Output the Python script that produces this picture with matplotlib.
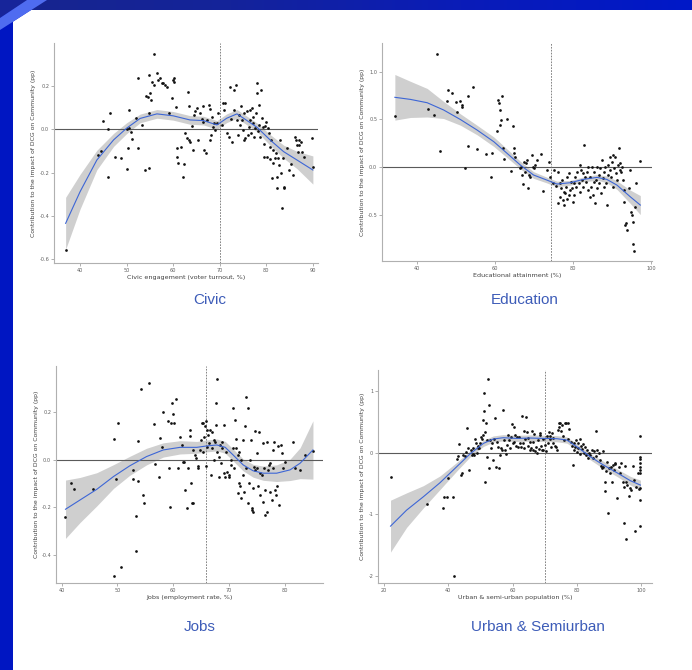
import matplotlib
matplotlib.use("Agg")
import matplotlib.pyplot as plt
import numpy as np
from matplotlib.patches import Polygon, Rectangle
from matplotlib.colors import LinearSegmentedColormap

plt.rcParams['axes.unicode_minus'] = False
plt.rcParams['font.family'] = ['DejaVu Sans']

# ---------------- DATA ----------------
titles = ["Civic", "Education", "Jobs", "Urban & Semiurban"]
xlabels = ["Civic engagement (voter turnout, %)", "Educational attainment (%)",
           "Jobs (employment rate, %)", "Urban & semi-urban population (%)"]
ylabel = "Contribution to the impact of DCG on Community (pp)"

civic_xticks = [40, 50, 60, 70, 80, 90]
civic_yticks = [-0.6, -0.4, -0.2, 0.0, 0.2]
civic_ytick_labels = ["-0.6", "-0.4", "-0.2", "0.0", "0.2"]
civic_threshold = 70
civic_points = [(36.9,-0.557),(43.9,-0.118),(44.5,-0.10),(44.9,0.038),(45.9,0.0),(46.1,-0.218),(46.4,0.077),
 (47.4,-0.126),(48.7,-0.134),(50.0,0.003),(50.2,-0.088),(50.0,-0.183),(50.5,0.089),(50.5,0.005),(50.9,-0.011),
 (51.1,-0.046),(52.0,0.054),(52.5,0.238),(52.5,-0.088),(53.2,0.02),(54.0,-0.188),(54.2,0.154),(54.5,0.151),
 (54.7,0.251),(54.7,0.074),(54.9,-0.18),(55.0,0.166),(55.2,0.135),(55.4,0.22),(55.8,0.205),(55.9,0.348),
 (56.5,0.258),(56.8,0.228),(57.2,0.235),(57.6,0.212),(57.9,0.215),(58.3,0.205),(58.6,0.197),(59.0,0.074),
 (59.7,0.143),(59.9,0.228),(60.1,0.235),(60.2,0.22),(60.6,0.105),(60.8,-0.088),(60.9,-0.126),(61.1,-0.154),
 (61.6,-0.08),(62.2,-0.218),(62.4,-0.16),(62.6,-0.018),(62.9,-0.042),(63.1,0.174),(63.3,-0.049),(63.5,0.108),
 (63.6,-0.057),(64.0,0.015),(64.2,-0.095),(64.4,0.066),(64.7,0.082),(65.1,0.097),(65.4,-0.049),(65.8,0.074),
 (66.1,0.046),(66.4,0.035),(66.5,0.108),(66.6,-0.095),(67.1,-0.108),(67.2,0.043),(67.6,0.112),(67.8,0.092),
 (67.9,-0.049),(68.1,-0.026),(68.3,0.058),(68.5,0.009),(68.8,0.028),(69.0,-0.003),(69.4,0.031),(69.7,0.077),
 (70.4,0.02),(70.8,0.12),(70.9,0.089),(71.2,0.12),(71.5,-0.018),(71.9,-0.034),(72.2,0.197),(72.4,0.046),
 (72.6,-0.057),(73.0,0.089),(73.1,0.182),(73.5,0.205),(73.7,0.043),(74.0,-0.026),(74.2,0.066),(74.4,0.02),
 (74.5,0.108),(74.7,0.043),(74.9,-0.003),(75.1,-0.049),(75.3,0.074),(75.5,-0.042),(75.8,0.086),(76.0,-0.026),
 (76.2,0.012),(76.4,0.043),(76.5,0.089),(76.7,-0.018),(76.9,0.097),(77.1,0.028),(77.2,0.058),(77.4,-0.037),
 (77.6,0.005),(77.8,0.077),(78.0,0.166),(78.1,0.212),(78.3,-0.006),(78.4,0.112),(78.5,0.02),(78.7,-0.034),
 (78.8,0.182),(79.0,0.051),(79.3,0.009),(79.4,-0.068),(79.5,-0.126),(79.8,0.015),(80.0,0.035),(80.1,-0.126),
 (80.3,0.005),(80.5,-0.018),(80.7,-0.083),(80.8,-0.138),(81.0,-0.049),(81.2,-0.226),(81.4,-0.157),(81.5,-0.095),
 (81.9,-0.134),(82.1,-0.111),(82.3,-0.269),(82.4,-0.218),(82.6,-0.134),(82.8,-0.165),(83.0,-0.049),(83.1,-0.203),
 (83.3,-0.365),(83.6,-0.134),(83.7,-0.272),(83.8,-0.265),(84.4,-0.085),(84.8,-0.188),(85.3,-0.16),(85.7,-0.211),
 (86.2,-0.037),(86.4,-0.049),(86.6,-0.072),(86.8,-0.103),(87.0,-0.072),(87.1,-0.049),(87.4,-0.057),(87.6,-0.103),
 (88.1,-0.126),(89.8,-0.042),(90.0,-0.175)]
civic_fit_x = [36.9, 40, 43.6, 47.2, 50, 52.9, 56.5, 60, 63.6, 66.5, 69.4, 71.5, 73.7, 75.1, 78, 80.8, 83.7, 86.6, 90]
civic_fit_y = [-0.434, -0.288, -0.142, -0.049, 0.005, 0.05, 0.071, 0.062, 0.043, 0.04, 0.02, 0.051, 0.071, 0.051,
               0.009, -0.049, -0.103, -0.142, -0.188]
civic_fit_se = [0.12, 0.08, 0.045, 0.03, 0.025, 0.02, 0.02, 0.02, 0.02, 0.02, 0.02, 0.02, 0.02, 0.02, 0.02,
                0.025, 0.03, 0.04, 0.065]

edu_xticks = [40, 60, 80, 100]
edu_yticks = [-0.5, 0.0, 0.5, 1.0]
edu_ytick_labels = ["-0.5", "0.0", "0.5", "1.0"]
edu_threshold = 74.4
edu_points = [(34.3,0.54),(42.7,0.61),(44.4,0.547),(45.0,1.19),(45.8,0.168),(47.7,0.694),(47.9,0.81),(49.0,0.775),
 (50.1,0.687),(50.3,0.582),(51.1,0.694),(51.5,0.652),(51.6,0.634),(52.4,-0.014),(53.0,0.747),(53.2,0.224),
 (54.3,0.841),(55.4,0.186),(57.7,0.133),(59.0,-0.10),(59.2,0.144),(60.5,0.379),(60.8,0.705),(61.0,0.67),
 (61.2,0.60),(61.4,0.44),(61.5,0.494),(61.8,0.747),(62.1,0.196),(62.4,0.08),(63.1,0.50),(64.1,-0.038),
 (64.6,0.43),(64.8,0.196),(65.0,0.144),(65.2,0.109),(66.5,-0.014),(66.7,0.0),(67.0,-0.084),(67.2,-0.18),
 (67.5,0.056),(67.8,-0.049),(68.0,0.039),(68.2,0.074),(68.6,-0.224),(68.8,-0.084),(69.1,-0.10),(69.5,0.126),
 (69.7,0.0),(69.9,-0.014),(70.3,0.021),(70.8,0.074),(71.8,0.133),(72.3,-0.249),(73.3,-0.03),(73.8,0.056),
 (74.2,-0.11),(74.9,-0.17),(75.2,-0.03),(75.7,-0.20),(76.1,-0.049),(76.3,-0.38),(76.6,-0.17),(76.8,-0.31),
 (76.9,-0.224),(77.2,-0.137),(77.4,-0.347),(77.6,-0.26),(77.8,-0.40),(78.0,-0.277),(78.3,-0.207),(78.5,-0.34),
 (78.6,-0.10),(78.9,-0.294),(79.1,-0.067),(79.3,-0.242),(79.5,-0.154),(79.7,-0.224),(80.0,-0.365),(80.2,-0.172),
 (80.3,-0.294),(80.6,-0.102),(80.9,-0.207),(81.0,-0.049),(81.5,-0.172),(81.7,0.021),(81.9,-0.259),(82.1,-0.032),
 (82.3,-0.137),(82.6,-0.067),(82.7,-0.207),(82.9,0.231),(83.2,-0.102),(83.4,-0.154),(83.6,-0.049),(83.8,-0.242),
 (84.0,0.0),(84.3,-0.312),(84.4,-0.102),(84.6,-0.207),(84.9,0.0),(85.1,-0.294),(85.3,-0.154),(85.5,-0.049),
 (85.7,-0.382),(86.0,-0.137),(86.2,0.0),(86.3,-0.224),(86.6,-0.084),(86.8,-0.172),(87.0,-0.014),(87.2,-0.277),
 (87.4,0.074),(87.7,-0.12),(87.9,-0.207),(88.0,-0.049),(88.3,0.0),(88.5,-0.172),(88.7,-0.40),(88.9,-0.084),
 (89.1,0.021),(89.4,-0.032),(89.6,0.102),(89.7,-0.102),(90.0,0.056),(90.3,0.126),(90.4,-0.207),(90.6,-0.014),
 (90.9,0.109),(91.1,-0.067),(91.3,-0.137),(91.5,0.021),(91.8,0.196),(92.0,-0.032),(92.1,0.039),(92.3,-0.049),
 (92.6,0.0),(92.8,-0.137),(93.0,-0.242),(93.2,-0.365),(93.4,-0.61),(93.7,-0.585),(94.0,-0.662),(94.4,-0.224),
 (94.7,-0.032),(94.9,-0.47),(95.1,-0.505),(95.3,-0.575),(95.5,-0.81),(95.7,-0.883),(96.0,-0.417),(96.2,-0.172),
 (97.3,0.067)]
edu_fit_x = [34.3, 38.3, 42.6, 46.8, 51.1, 55.4, 59.7, 63.1, 66.5, 69.9, 73.3, 75.9, 79.3, 82.7, 86.2, 88.7, 91.3, 94.7, 97.3]
edu_fit_y = [0.733, 0.711, 0.676, 0.60, 0.50, 0.389, 0.266, 0.144, 0.021, -0.084, -0.137, -0.179, -0.165, -0.13,
             -0.109, -0.13, -0.19, -0.312, -0.40]
edu_fit_se = [0.24, 0.19, 0.15, 0.09, 0.06, 0.05, 0.05, 0.045, 0.04, 0.035, 0.03, 0.03, 0.025, 0.025, 0.03, 0.035,
              0.045, 0.07, 0.10]

jobs_xticks = [40, 50, 60, 70, 80]
jobs_yticks = [-0.4, -0.2, 0.0, 0.2]
jobs_ytick_labels = ["-0.4", "-0.2", "0.0", "0.2"]
jobs_threshold = 65.8
jobs_points = [(40.7,-0.239),(41.6,-0.098),(42.3,-0.122),(45.6,-0.122),(49.4,0.089),(49.4,-0.489),(49.7,-0.08),
 (50.1,0.157),(50.7,-0.45),(52.7,-0.042),(52.8,-0.08),(53.3,-0.382),(53.4,-0.235),(53.6,-0.091),(53.7,0.08),
 (54.3,0.298),(54.6,-0.149),(54.7,-0.183),(55.7,0.323),(56.5,0.15),(56.7,-0.018),(57.4,-0.07),(57.6,0.094),
 (57.9,0.056),(58.2,0.204),(59.1,0.162),(59.3,-0.035),(59.4,-0.197),(59.5,0.155),(59.7,0.239),(59.9,0.193),
 (60.1,0.155),(60.5,0.256),(60.9,-0.035),(61.2,0.096),(61.5,0.063),(61.7,-0.007),(61.9,-0.007),(62.1,-0.126),
 (62.4,-0.204),(62.7,-0.035),(62.9,0.126),(63.0,0.101),(63.1,-0.096),(63.3,-0.183),(63.6,-0.183),(63.6,0.042),
 (63.8,0.021),(64.1,0.007),(64.4,-0.035),(64.5,-0.025),(64.8,0.042),(64.9,0.084),(65.1,0.157),(65.3,0.035),
 (65.4,0.155),(65.5,0.098),(65.7,0.141),(65.8,-0.025),(65.9,0.162),(66.0,0.126),(66.1,0.056),(66.3,0.105),
 (66.4,0.07),(66.6,0.126),(66.7,-0.063),(66.9,0.049),(67.0,0.119),(67.2,0.084),(67.3,0.0),(67.5,0.077),
 (67.6,0.148),(67.6,0.239),(67.8,0.342),(67.9,0.035),(68.1,0.014),(68.2,-0.07),(68.4,0.063),(68.5,-0.014),
 (68.7,0.077),(68.8,0.049),(69.0,-0.056),(69.1,0.148),(69.3,-0.07),(69.4,0.035),(69.6,-0.049),(69.9,-0.07),
 (70.0,-0.063),(70.3,-0.021),(70.4,0.0),(70.6,0.049),(70.7,0.218),(70.9,-0.035),(71.0,0.169),(71.2,0.049),
 (71.3,0.087),(71.5,0.021),(71.6,-0.141),(71.8,0.035),(71.8,-0.096),(71.9,-0.112),(72.1,-0.162),(72.2,0.0),
 (72.4,-0.063),(72.5,0.084),(72.7,-0.134),(72.8,0.141),(73.0,0.267),(73.1,-0.035),(73.3,0.218),(73.4,-0.183),
 (73.6,-0.098),(73.7,0.0),(73.9,0.084),(74.0,-0.204),(74.1,-0.211),(74.2,-0.218),(74.3,-0.119),(74.4,-0.028),
 (74.6,0.124),(74.7,-0.042),(74.9,0.028),(75.0,-0.035),(75.2,-0.112),(75.4,0.119),(75.5,-0.056),(75.6,-0.148),
 (75.8,-0.063),(76.0,0.07),(76.1,-0.176),(76.2,-0.035),(76.4,-0.126),(76.5,-0.232),(76.7,-0.218),(76.8,0.077),
 (77.0,-0.042),(77.2,-0.021),(77.3,-0.134),(77.4,-0.014),(77.6,-0.169),(77.8,0.042),(77.9,-0.035),(78.0,0.077),
 (78.2,-0.126),(78.4,-0.148),(78.5,-0.112),(78.8,0.059),(79.0,-0.19),(79.2,0.063),(79.4,0.028),(79.7,-0.035),
 (80.0,-0.007),(81.5,0.077),(81.7,-0.035),(82.7,-0.042),(83.6,0.021),(85.0,0.039)]
jobs_fit_x = [40.7, 43.3, 46.3, 49.3, 52.2, 55.2, 58.2, 61.2, 64.2, 66.0, 67.8, 69.3, 70.7, 72.5, 74.3, 76.1, 78.5, 80.9, 82.7, 85.0]
jobs_fit_y = [-0.208, -0.169, -0.124, -0.07, -0.025, 0.014, 0.042, 0.053, 0.053, 0.059, 0.063, 0.053, 0.021, -0.021,
              -0.046, -0.056, -0.056, -0.042, -0.014, 0.042]
jobs_fit_se = [0.123, 0.095, 0.07, 0.05, 0.04, 0.035, 0.03, 0.028, 0.025, 0.025, 0.025, 0.025, 0.025, 0.025, 0.027,
               0.03, 0.035, 0.045, 0.065, 0.123]

urban_xticks = [20, 40, 60, 80, 100]
urban_yticks = [-2, -1, 0, 1]
urban_ytick_labels = ["-2", "-1", "0", "1"]
urban_threshold = 70.1
urban_points = [(22.0,-0.389),(33.4,-0.838),(38.2,-0.903),(38.6,-0.724),(39.5,-0.714),(40.0,-0.416),(41.3,-0.714),
 (41.8,-2.0),(42.6,-0.108),(43.1,-0.054),(43.4,0.141),(43.8,-0.362),(44.4,-0.335),(44.7,-0.038),(45.2,-0.049),
 (45.5,0.016),(45.9,0.395),(46.2,0.07),(46.5,-0.281),(46.9,0.043),(47.3,-0.038),(47.6,-0.022),(47.8,0.081),
 (48.0,-0.038),(48.3,0.216),(48.6,0.151),(48.8,0.0),(49.1,0.108),(49.3,0.07),(49.6,0.07),(49.9,0.162),
 (50.1,0.249),(50.4,0.216),(50.7,0.286),(50.9,0.53),(51.1,0.973),(51.2,0.681),(51.4,-0.47),(51.5,0.341),
 (51.7,0.476),(51.9,0.205),(52.1,-0.065),(52.3,1.189),(52.6,0.773),(52.8,-0.254),(53.0,0.205),(53.3,0.07),
 (53.5,0.151),(53.8,-0.119),(54.2,0.222),(54.5,0.557),(54.9,-0.227),(55.1,0.178),(55.4,0.097),(55.7,-0.254),
 (56.1,-0.038),(56.3,0.07),(56.6,0.043),(56.9,0.692),(57.3,0.205),(57.7,0.043),(58.0,-0.022),(58.2,0.124),
 (58.7,0.286),(59.0,0.205),(59.2,0.07),(59.5,0.259),(59.8,0.465),(60.1,0.151),(60.3,0.422),(60.5,0.178),
 (60.8,0.286),(61.1,0.108),(61.3,0.249),(61.8,0.086),(62.1,0.259),(62.3,0.162),(62.7,0.097),(62.9,0.6),
 (63.2,0.151),(63.4,0.357),(63.6,0.07),(63.9,0.216),(64.2,0.573),(64.4,0.341),(64.7,0.108),(64.9,0.232),
 (65.3,0.043),(65.5,0.178),(65.7,0.07),(66.0,0.357),(66.2,0.043),(66.5,0.178),(66.7,0.303),(67.0,0.032),
 (67.3,0.086),(67.5,-0.011),(67.8,0.205),(68.1,0.054),(68.4,0.286),(68.6,0.324),(68.8,0.108),(69.1,0.043),
 (69.4,0.216),(69.6,0.043),(70.1,0.124),(70.5,0.032),(70.7,0.27),(70.9,0.162),(71.2,0.341),(71.5,0.216),
 (71.7,0.27),(72.0,0.097),(72.3,0.324),(72.5,0.232),(72.7,0.162),(73.3,0.108),(73.6,0.086),(73.8,0.043),
 (74.1,0.368),(74.3,0.486),(74.6,0.422),(74.8,0.476),(75.0,0.357),(75.3,0.449),(75.7,0.27),(75.9,0.205),
 (76.2,0.476),(76.7,0.476),(77.1,0.476),(77.4,0.216),(77.7,0.378),(78.2,0.178),(78.5,0.108),(78.8,-0.2),
 (79.0,0.043),(79.2,0.151),(79.5,0.086),(79.8,0.205),(80.0,0.016),(80.3,0.162),(80.5,0.07),(80.9,-0.022),
 (81.1,0.216),(81.3,0.108),(81.6,0.054),(81.9,0.141),(82.1,-0.011),(82.4,0.097),(82.7,-0.038),(83.1,0.043),
 (83.5,-0.092),(83.8,-0.011),(84.2,-0.038),(84.6,0.043),(85.0,-0.092),(85.4,0.032),(85.9,0.357),(86.1,-0.054),
 (86.3,0.043),(86.8,-0.011),(87.1,-0.119),(87.5,-0.216),(87.8,-0.254),(88.1,0.032),(88.3,-0.227),(88.7,-0.47),
 (88.9,-0.616),(89.2,-0.292),(89.4,-0.146),(89.6,-0.973),(90.0,-0.254),(90.3,-0.335),(90.6,-0.227),(91.0,-0.47),
 (91.3,-0.2),(91.5,-0.281),(91.8,-0.184),(92.0,-0.173),(92.5,-0.741),(93.0,-0.227),(93.3,-0.324),(93.8,-0.173),
 (94.4,-0.47),(94.6,-1.146),(94.8,-0.551),(95.1,-0.216),(95.3,-0.47),(95.4,-1.405),(95.6,-0.524),(96.3,-0.703),
 (96.7,-0.578),(97.0,-0.605),(97.5,-0.216),(97.9,-0.443),(98.2,-1.265),(98.5,-0.551),(98.9,-0.335),(99.4,-0.595),
 (99.8,0.27),(99.8,-0.065),(99.8,-0.108),(99.8,-0.173),(99.8,-0.238),(99.8,-0.281),(99.8,-0.335),(99.8,-0.578),
 (99.8,-0.768),(99.8,-1.189)]
urban_fit_x = [22.0, 27.0, 32.2, 37.4, 42.6, 46.7, 50.9, 54.0, 57.1, 61.3, 65.5, 69.6, 73.8, 76.9, 80.0, 84.2, 88.3, 92.5, 96.7, 99.8]
urban_fit_y = [-1.189, -0.93, -0.714, -0.486, -0.227, -0.022, 0.151, 0.222, 0.243, 0.232, 0.238, 0.232, 0.227, 0.205,
               0.097, -0.065, -0.2, -0.324, -0.454, -0.524]
urban_fit_se = [0.42, 0.28, 0.18, 0.11, 0.07, 0.05, 0.05, 0.05, 0.05, 0.05, 0.05, 0.05, 0.05, 0.05, 0.05, 0.05,
                0.06, 0.06, 0.07, 0.08]

# ---------------- LAYOUT (pixels) ----------------
W, H = 692, 670
fig = plt.figure(figsize=(W / 100, H / 100), dpi=100)
fig.patch.set_facecolor("white")

# slide frame: top gradient band, left band, corner stripe
band = fig.add_axes([0, 1 - 10 / H, 1, 10 / H])
grad = np.linspace(0, 1, 256)[None, :]
cmap = LinearSegmentedColormap.from_list("band", ["#17258e", "#14239a", "#0a1cb8", "#0018c8"])
band.imshow(grad, aspect="auto", cmap=cmap, extent=[0, 1, 0, 1])
band.set_axis_off()
LEFT_BLUE = "#0016c2"
fig.patches.append(Rectangle((0, 0), 13 / W, 1, transform=fig.transFigure, color=LEFT_BLUE, lw=0, zorder=5))

def px(x, y):
    return (x / W, 1 - y / H)

fig.patches.append(Polygon([px(0, 30), px(0, 60), px(13, 60), px(13, 10), px(31.3, 10)],
                           closed=True, transform=fig.transFigure, color=LEFT_BLUE, lw=0, zorder=6))
fig.patches.append(Polygon([px(0, 0), px(0, 18), px(27, 0)], closed=True,
                           transform=fig.transFigure, color="#17259a", lw=0, zorder=6))
fig.patches.append(Polygon([px(0, 18), px(0, 30), px(47, 0), px(27, 0)], closed=True,
                           transform=fig.transFigure, color="#4f6cf0", lw=0, zorder=7))

panels = [
    dict(box=(54, 43, 318, 263), xlim=(34.4, 91.1), ylim=(-0.617, 0.398), pts=civic_points,
         fx=civic_fit_x, fy=civic_fit_y, fse=civic_fit_se, xt=civic_xticks, yt=civic_yticks,
         ytl=civic_ytick_labels, thr=civic_threshold, title_xy=(210, 300)),
    dict(box=(382, 43, 652, 261), xlim=(31.0, 100.3), ylim=(-0.988, 1.304), pts=edu_points,
         fx=edu_fit_x, fy=edu_fit_y, fse=edu_fit_se, xt=edu_xticks, yt=edu_yticks,
         ytl=edu_ytick_labels, thr=edu_threshold, title_xy=(525, 300)),
    dict(box=(56, 366, 323, 583), xlim=(39.0, 86.8), ylim=(-0.519, 0.396), pts=jobs_points,
         fx=jobs_fit_x, fy=jobs_fit_y, fse=jobs_fit_se, xt=jobs_xticks, yt=jobs_yticks,
         ytl=jobs_ytick_labels, thr=jobs_threshold, title_xy=(200, 627)),
    dict(box=(378, 370, 652, 583), xlim=(18.1, 103.4), ylim=(-2.11, 1.34), pts=urban_points,
         fx=urban_fit_x, fy=urban_fit_y, fse=urban_fit_se, xt=urban_xticks, yt=urban_yticks,
         ytl=urban_ytick_labels, thr=urban_threshold, title_xy=(538, 627)),
]

for i, p in enumerate(panels):
    l, t, r, b = p["box"]
    ax = fig.add_axes([l / W, 1 - b / H, (r - l) / W, (b - t) / H])
    ax.set_facecolor("white")
    fx = np.array(p["fx"]); fy = np.array(p["fy"]); se = np.array(p["fse"])
    ax.fill_between(fx, fy - se, fy + se, color="#cfcfcf", lw=0, zorder=1)
    ax.axhline(0, color="#5a5a5a", lw=0.8, zorder=2)
    ax.axvline(p["thr"], color="#707070", lw=0.6, ls=(0, (2, 1.5)), zorder=2)
    xs = [q[0] for q in p["pts"]]; ys = [q[1] for q in p["pts"]]
    ax.scatter(xs, ys, s=3.8, color="#111111", lw=0, zorder=3)
    ax.plot(fx, fy, color="#3d66d6", lw=0.8, zorder=4)
    ax.set_xlim(*p["xlim"]); ax.set_ylim(*p["ylim"])
    ax.set_xticks(p["xt"]); ax.set_yticks(p["yt"]); ax.set_yticklabels(p["ytl"])
    for s in ["top", "right"]:
        ax.spines[s].set_visible(False)
    for s in ["left", "bottom"]:
        ax.spines[s].set_color("#b0b0b0"); ax.spines[s].set_linewidth(0.8)
    ax.tick_params(length=2, width=0.5, color="#909090", labelsize=3.6, labelcolor="#606060", pad=1.5)
    ax.set_xlabel(xlabels[i], fontsize=4.6, color="#404040", labelpad=1.5)
    ax.set_ylabel(ylabel, fontsize=4.4, color="#404040", labelpad=2)
    tx, ty = p["title_xy"]
    fig.text(tx / W, 1 - ty / H, titles[i], ha="center", va="center", fontsize=11,
             color="#3d5cb8", family="Liberation Sans")

fig.savefig("out.png", dpi=100)
